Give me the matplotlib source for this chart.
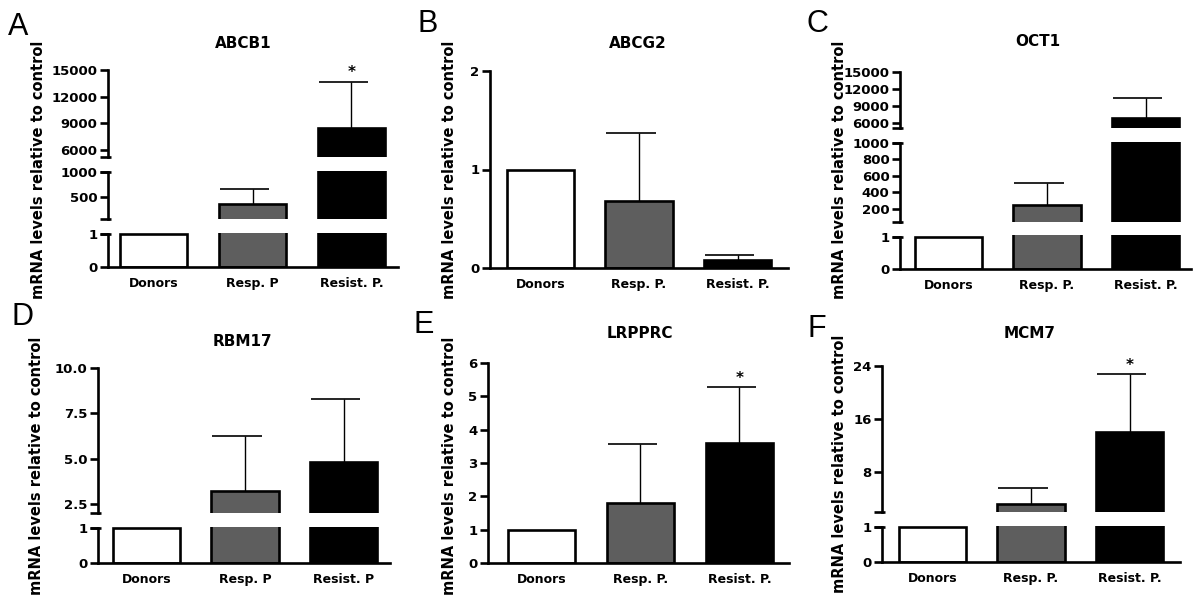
import matplotlib
matplotlib.use('Agg')
import matplotlib.pyplot as plt
from matplotlib.transforms import Bbox, TransformedBbox

plt.rcParams['font.family'] = ['DejaVu Sans']

# values (mean, upper error)
abcb1_mean = [1, 360, 8450]
abcb1_err = [0, 300, 5250]
abcg2_mean = [1, 0.68, 0.08]
abcg2_err = [0, 0.69, 0.05]
oct1_mean = [1, 250, 6900]
oct1_err = [0, 259, 3500]
rbm17_mean = [1, 3.2, 4.83]
rbm17_err = [0, 3.07, 3.44]
lrpprc_mean = [1, 1.8, 3.6]
lrpprc_err = [0, 1.76, 1.67]
mcm7_mean = [1, 3.2, 14.0]
mcm7_err = [0, 2.4, 8.75]

labels_a = ['Donors', 'Resp. P', 'Resist. P.']
labels_b = ['Donors', 'Resp. P.', 'Resist. P.']
labels_d = ['Donors', 'Resp. P', 'Resist. P']
bar_colors = ['white', '#5e5e5e', 'black']

W, H = 1200, 600
LW = 1.9
fig = plt.figure(figsize=(12, 6), dpi=100)


def panel(mean, err, labels, title, letter, star, spine_x, right, xlim, segs,
          ylab, title_xy, letter_xy, fmt='%d'):
    x = list(range(len(mean)))
    axw = right - spine_x
    for i, (lo, hi, pb, pt, ticks) in enumerate(segs):
        ax = fig.add_axes([spine_x / W, 1 - pb / H, axw / W, (pb - pt) / H])
        ax.set_xlim(*xlim)
        ax.set_ylim(lo, hi)
        ax.patch.set_visible(False)
        ax.spines['top'].set_visible(False)
        ax.spines['right'].set_visible(False)
        ax.spines['left'].set_linewidth(LW)
        if i == 0:
            ax.spines['bottom'].set_linewidth(LW)
            ax.set_xticks(x)
            ax.set_xticklabels(labels, fontweight='bold', fontsize=9)
            ax.tick_params(axis='x', length=0, pad=7)
        else:
            ax.spines['bottom'].set_visible(False)
            ax.set_xticks([])
        f = fmt if (i > 0 or len(segs) == 1) else '%d'
        ax.set_yticks(ticks)
        ax.set_yticklabels([f % t for t in ticks], fontweight='bold', fontsize=9.5)
        ax.tick_params(axis='y', length=6, width=LW, pad=1.5)

        # bars cut at the segment edges (a little room on top for the edge line)
        clip = TransformedBbox(Bbox([[-0.2, 0], [1.2, 1 + 1.5 / (pb - pt)]]), ax.transAxes)
        bars = ax.bar(x, mean, width=0.68, color=bar_colors, edgecolor='black', linewidth=LW)
        for b in bars:
            b.set_clip_box(clip)

        for j in x:
            if err[j] > 0 and lo <= mean[j] <= hi:
                top = mean[j] + err[j]
                ax.vlines(j, mean[j], top, color='black', lw=1.0, clip_on=False, zorder=3)
                ax.hlines(top, j - 0.33, j + 0.17, color='black', lw=1.2, clip_on=False, zorder=3)
                if star[j]:
                    ax.annotate('*', (j, top), xytext=(0, 1), textcoords='offset points',
                                ha='center', va='bottom', fontsize=11, fontweight='bold',
                                annotation_clip=False)

        # break marks on the axis
        ends = []
        if i > 0:
            ends.append(lo)
        if i < len(segs) - 1:
            ends.append(hi)
        for yv in ends:
            ax.plot([-8 / axw, 3 / axw], [yv, yv], transform=ax.get_yaxis_transform(),
                    color='black', lw=LW, clip_on=False, solid_capstyle='butt')

    fig.text(ylab[0] / W, 1 - ylab[1] / H, 'mRNA levels relative to control',
             rotation=90, ha='center', va='center', fontsize=10.5, fontweight='bold')
    fig.text(title_xy[0] / W, 1 - title_xy[1] / H, title, ha='center', va='center',
             fontsize=11, fontweight='bold')
    fig.text(letter_xy[0] / W, 1 - letter_xy[1] / H, letter, ha='left', va='baseline',
             fontsize=22, family=['Liberation Sans', 'DejaVu Sans'])


panel(abcb1_mean, abcb1_err, labels_a, 'ABCB1', 'A', [0, 0, 1], 108, 398, (-0.46, 2.47),
      [(0, 1, 267, 234, [0, 1]),
       (60, 1000, 219, 172, [500, 1000]),
       (5200, 15000, 157, 70, [6000, 9000, 12000, 15000])],
      (39, 170), (243, 43), (8, 35))

panel(abcg2_mean, abcg2_err, labels_b, 'ABCG2', 'B', [0, 0, 0], 490, 788, (-0.51, 2.51),
      [(0, 2, 268, 71, [0, 1, 2])],
      (450, 170), (638, 43), (418, 32))

panel(oct1_mean, oct1_err, labels_b, 'OCT1', 'C', [0, 0, 0], 900, 1191, (-0.49, 2.46),
      [(0, 1, 269, 237, [0, 1]),
       (42, 1000, 222, 143, [200, 400, 600, 800, 1000]),
       (5120, 15000, 128, 72, [6000, 9000, 12000, 15000])],
      (839, 170), (1038, 42), (807, 32))

panel(rbm17_mean, rbm17_err, labels_d, 'RBM17', 'D', [0, 0, 0], 98, 390, (-0.49, 2.47),
      [(0, 1, 563, 528, [0, 1]),
       (2.0, 10.0, 513, 368, [2.5, 5.0, 7.5, 10.0])],
      (37, 466), (242, 342), (12, 325), fmt='%.1f')

panel(lrpprc_mean, lrpprc_err, labels_b, 'LRPPRC', 'E', [0, 0, 1], 488, 789, (-0.54, 2.5),
      [(0, 6, 563, 363, [0, 1, 2, 3, 4, 5, 6])],
      (449, 466), (640, 333), (413, 333))

panel(mcm7_mean, mcm7_err, labels_b, 'MCM7', 'F', [0, 0, 1], 882, 1180, (-0.51, 2.51),
      [(0, 1, 562, 527, [0, 1]),
       (2, 24, 512, 366, [8, 16, 24])],
      (839, 464), (1030, 333), (807, 337))

fig.savefig('out.png', dpi=100)
